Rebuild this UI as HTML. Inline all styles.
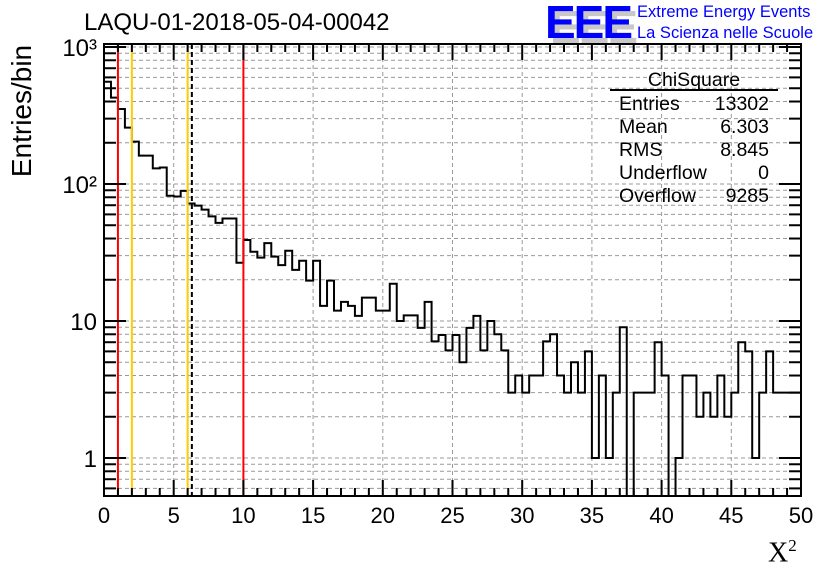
<!DOCTYPE html>
<html><head><meta charset="utf-8"><style>
html,body{margin:0;padding:0;background:#fff;}
svg{display:block;font-family:"Liberation Sans",sans-serif;}
</style></head><body>
<svg id="c" width="836" height="572"></svg>
<script>
const binEdgesMin = 0, binWidth = 0.5;
const counts = [558,427,353,258,204,161,161,130,132,82,81,89,72,69.5,65,58,52,56,56,26.6,
39,32,29,37,29.5,25.6,32.6,23.6,27.5,19.7,27.5,12.9,19.7,11.9,13.8,12.9,10.9,14.8,14.8,11.9,
11.9,18.7,10,11,11,8.9,13.8,7.1,7.9,6.1,7.9,5,8.9,10.9,6.1,10,8,6.1,3,4,
3,4,4,7.1,8,4,3,5,3,6,1,4,1,3,9,0,3,3,3,7,
4,0,1,4,4,2,3,2,4,2,3,7,6,1,3,6,3,3,3,3];
const xTicks = [0,5,10,15,20,25,30,35,40,45,50];
const yDecades = [1,10,100,1000];
const yDecadeLabels = ["1","10","10²","10³"];
const redLines = [1,10];
const yellowLines = [2,6];
const meanLine = [6.303];
const statLabels = ["Entries","Mean","RMS","Underflow","Overflow"];
const statValues = ["13302","6.303","8.845","0","9285"];

const NS="http://www.w3.org/2000/svg";
const svg=document.getElementById('c');
const L=104,R=801,T=44,B=496;
const X=v=>L+(v-0)/50*(R-L);
const Y=v=>458-137*Math.log10(v);
function el(tag,attrs,parent){const e=document.createElementNS(NS,tag);for(const k in attrs)e.setAttribute(k,attrs[k]);(parent||svg).appendChild(e);return e;}

const grid=el('g',{});


xTicks.forEach(t=>{if(t>0&&t<50){el('line',{x1:X(t),x2:X(t),y1:T,y2:B,stroke:'#999','stroke-dasharray':'4,3'},grid);}});
yDecades.forEach(d=>{for(let m=1;m<10;m++){const v=d*m;const y=Y(v);if(y>T&&y<B)el('line',{x1:L,x2:R,y1:y,y2:y,stroke:'#999','stroke-dasharray':'4,3'},grid);}});
[0.6,0.7,0.8,0.9].forEach(v=>{const y=Y(v);el('line',{x1:L,x2:R,y1:y,y2:y,stroke:'#999','stroke-dasharray':'4,3'},grid);});

let d='';
const yb=v=>v>0?Math.min(B,Math.max(T,Y(v))):B;
counts.forEach((c,i)=>{const x0=X(binEdgesMin+i*binWidth),x1=X(binEdgesMin+(i+1)*binWidth);const y=yb(c);d+=(i===0?'M'+x0+','+y:'L'+x0+','+y)+'L'+x1+','+y;});
const h=el('path',{d:d,fill:'none',stroke:'#000','stroke-width':2});



redLines.forEach(v=>{const l=el('line',{x1:X(v),x2:X(v),y1:T,y2:B,stroke:'#f00','stroke-width':2});

});
yellowLines.forEach(v=>{const l=el('line',{x1:X(v),x2:X(v),y1:T,y2:B,stroke:'#fc0','stroke-width':2});

});
meanLine.forEach(v=>{const l=el('line',{x1:X(v),x2:X(v),y1:T,y2:B,stroke:'#000','stroke-width':2,'stroke-dasharray':'5,3'});

});

const fr=el('rect',{x:L,y:T,width:R-L,height:B-T,fill:'none',stroke:'#000','stroke-width':2});



const xa=el('g',{});


for(let t=0;t<=50;t++){const major=t%5===0;const len=major?16:8;el('line',{x1:X(t),x2:X(t),y1:B,y2:B-len,stroke:'#000','stroke-width':2},xa);el('line',{x1:X(t),x2:X(t),y1:T,y2:T+len,stroke:'#000','stroke-width':2},xa);}
xTicks.forEach(t=>{const tx=el('text',{x:X(t),y:523,'font-size':22,'text-anchor':'middle'},xa);tx.textContent=t;});

const ya=el('g',{});


yDecades.forEach((dd,i)=>{for(let m=1;m<10;m++){const y=Y(dd*m);if(y<T-1||y>B)continue;const len=m===1?22:12;el('line',{x1:L,x2:L+len,y1:y,y2:y,stroke:'#000','stroke-width':2},ya);el('line',{x1:R,x2:R-len,y1:y,y2:y,stroke:'#000','stroke-width':2},ya);}
const tx=el('text',{x:97,y:Y(dd)+9,'font-size':24,'text-anchor':'end'},ya);tx.textContent=yDecadeLabels[i];});
[0.6,0.7,0.8,0.9].forEach(v=>{const y=Y(v);el('line',{x1:L,x2:L+12,y1:y,y2:y,stroke:'#000','stroke-width':2},ya);el('line',{x1:R,x2:R-12,y1:y,y2:y,stroke:'#000','stroke-width':2},ya);});

const sb=el('g',{});


const st=el('text',{x:694,y:86,'font-size':19.5,'text-anchor':'middle'},sb);st.textContent='ChiSquare';
el('line',{x1:610,x2:778,y1:90,y2:90,stroke:'#000','stroke-width':2},sb);
statLabels.forEach((s,i)=>{const y=110+i*23;const a=el('text',{x:619,y:y,'font-size':19.5},sb);a.textContent=s;const b=el('text',{x:769,y:y,'font-size':19.5,'text-anchor':'end'},sb);b.textContent=statValues[i];});
</script>
<div style="position:absolute;left:0;top:0;width:836px;height:572px;pointer-events:none;font-family:'Liberation Sans',sans-serif;">
<div style="position:absolute;left:84px;top:9px;font-size:24px;">LAQU-01-2018-05-04-00042</div>
<div style="position:absolute;left:-53px;top:95px;font-size:28px;transform:rotate(-90deg);width:150px;text-align:center;">Entries/bin</div>
<div style="position:absolute;left:768px;top:536px;font-size:28px;font-family:'Liberation Serif',serif;">X<sup style="font-size:17px;">2</sup></div>
<div style="position:absolute;left:545px;top:-5px;font-size:46px;font-weight:bold;letter-spacing:-2px;">
<span style="position:absolute;left:5px;top:5px;color:#c8c8c8;">EEE</span><span style="position:absolute;left:0;top:0;color:#0000ff;">EEE</span></div>
<div style="position:absolute;left:637px;top:2px;font-size:16.5px;color:#0000ff;line-height:21px;">Extreme Energy Events<br>La Scienza nelle Scuole</div>
</div>
</body></html>
